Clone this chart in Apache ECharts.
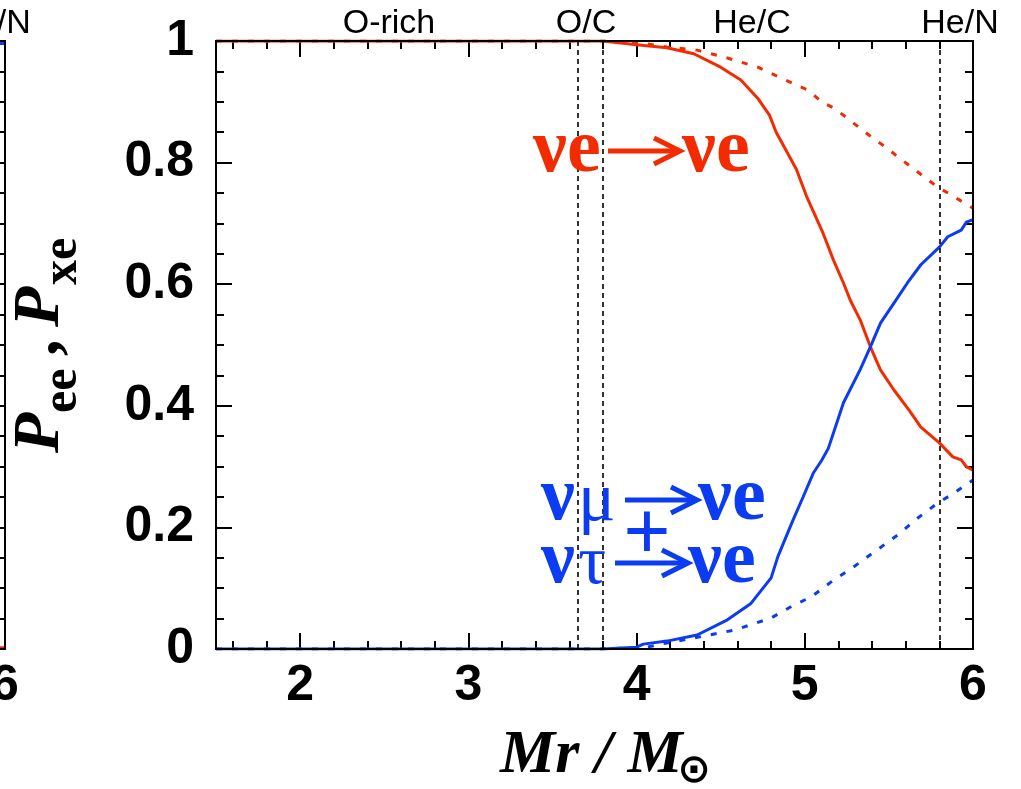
<!DOCTYPE html>
<html>
<head>
<meta charset="utf-8">
<script src="https://cdn.jsdelivr.net/npm/echarts@6/dist/echarts.min.js"></script>
<style>
  html, body { margin: 0; padding: 0; background: #fff; }
  #chart { width: 1021px; height: 789px; }
</style>
</head>
<body>
<div id="chart"></div>
<script>
// Enclosed mass coordinate Mr / Msun
const xMin = 1.5;
const xMax = 6;
const majorX = [2, 3, 4, 5, 6];
const minorX = [1.6, 1.8, 2.2, 2.4, 2.6, 2.8, 3.2, 3.4, 3.6, 3.8, 4.2, 4.4, 4.6, 4.8, 5.2, 5.4, 5.6, 5.8];

// Composition layer boundaries and their names
const boundaryX = [3.65, 3.8, 5.8];
const zoneNames = ['O-rich', 'O/C', 'He/C', 'He/N'];

// P_ee (solid): nu_e -> nu_e
const peeX = [1.5, 3.8, 4.0, 4.18, 4.34, 4.5, 4.62, 4.72, 4.79, 4.83, 4.95, 5.01, 5.11, 5.17, 5.23, 5.27, 5.33, 5.39, 5.45, 5.53, 5.62, 5.69, 5.8, 5.88, 5.93, 5.96, 6.0];
const peeY = [1.0, 1.0, 0.994, 0.989, 0.979, 0.957, 0.936, 0.906, 0.878, 0.85, 0.789, 0.745, 0.683, 0.64, 0.602, 0.574, 0.541, 0.497, 0.459, 0.426, 0.393, 0.365, 0.339, 0.316, 0.311, 0.3, 0.294];

// P_xe (solid): nu_mu + nu_tau -> nu_e
const pxeX = [1.5, 3.8, 4.0, 4.04, 4.18, 4.36, 4.54, 4.68, 4.8, 4.84, 4.93, 4.99, 5.05, 5.1, 5.14, 5.23, 5.33, 5.39, 5.45, 5.53, 5.61, 5.69, 5.8, 5.85, 5.93, 5.96, 6.0];
const pxeY = [0.0, 0.0, 0.003, 0.008, 0.013, 0.023, 0.048, 0.075, 0.117, 0.152, 0.212, 0.25, 0.289, 0.31, 0.33, 0.405, 0.46, 0.497, 0.536, 0.569, 0.602, 0.632, 0.661, 0.678, 0.689, 0.702, 0.706];

// P_ee (dotted)
const peeDotX = [1.5, 3.8, 4.02, 4.18, 4.36, 4.54, 4.72, 4.86, 5.02, 5.1, 5.17, 5.23, 5.29, 5.42, 5.49, 5.55, 5.67, 5.75, 5.8, 5.87, 5.94, 6.0];
const peeDotY = [1.0, 1.0, 0.997, 0.99, 0.985, 0.972, 0.957, 0.939, 0.919, 0.9, 0.89, 0.878, 0.865, 0.837, 0.824, 0.81, 0.785, 0.768, 0.758, 0.747, 0.735, 0.725];

// P_xe (dotted)
const pxeDotX = [1.5, 3.8, 4.06, 4.18, 4.34, 4.58, 4.8, 4.92, 5.04, 5.155, 5.29, 5.43, 5.55, 5.67, 5.79, 5.89, 6.0];
const pxeDotY = [0.0, 0.0, 0.003, 0.01, 0.018, 0.031, 0.051, 0.07, 0.086, 0.11, 0.135, 0.163, 0.187, 0.215, 0.24, 0.257, 0.278];

// Neighbouring panel (only its outer edge shows)
const sideX = [5.9, 6.0];
const sidePee = [0.002, 0.002];
const sidePxe = [0.996, 0.996];
const sidePeeDot = [0.727, 0.726];
const sidePxeDot = [0.278, 0.278];

const RED = '#f22c00';
const BLUE = '#0b3cf2';
const SANS = '"Liberation Sans", Arial, Helvetica, sans-serif';
const SERIF = '"Liberation Serif", "Times New Roman", serif';

const pairs = (xs, ys) => xs.map((x, i) => [x, ys[i]]);

const chart = echarts.init(document.getElementById('chart'), null, { renderer: 'canvas' });

function xAxes(gridIndex) {
  const base = { type: 'value', gridIndex, min: xMin, max: xMax, splitLine: { show: false }, axisLine: { show: false } };
  const tick = (vals, len) => ({ show: true, inside: true, length: len, customValues: vals, lineStyle: { color: '#000', width: 2 } });
  return [
    Object.assign({}, base, {
      position: 'bottom',
      axisTick: tick(majorX, 16),
      axisLabel: { show: true, customValues: majorX, margin: 12, fontSize: 50, fontWeight: 'bold', fontFamily: SANS, color: '#000' }
    }),
    Object.assign({}, base, { position: 'bottom', axisTick: tick(minorX, 8), axisLabel: { show: false } }),
    Object.assign({}, base, { position: 'top', axisTick: tick(majorX, 16), axisLabel: { show: false } }),
    Object.assign({}, base, { position: 'top', axisTick: tick(minorX, 8), axisLabel: { show: false } })
  ];
}

function yAxes(gridIndex) {
  const base = {
    type: 'value', gridIndex, min: 0, max: 1, interval: 0.2,
    splitLine: { show: false }, axisLine: { show: false },
    axisTick: { show: true, inside: true, length: 16, lineStyle: { color: '#000', width: 2 } },
    minorTick: { show: true, splitNumber: 4, length: 8, lineStyle: { color: '#000', width: 2 } }
  };
  return [
    Object.assign({}, base, {
      position: 'left',
      axisLabel: { show: true, margin: 22, fontSize: 50, fontWeight: 'bold', fontFamily: SANS, color: '#000' }
    }),
    Object.assign({}, base, { position: 'right', axisLabel: { show: false } })
  ];
}

function lineSeries(name, data, color, dotted, xi, yi) {
  return {
    name, type: 'line', data, xAxisIndex: xi, yAxisIndex: yi,
    showSymbol: false, symbol: 'none', silent: true, animation: false,
    lineStyle: { color, width: 3, type: dotted ? [6, 10] : 'solid' },
    clip: true, z: 3
  };
}

// Text placed by its baseline (canvas 'middle' sits ~0.34 em above the baseline)
function txt(text, x, baseline, size, opts) {
  opts = opts || {};
  return {
    type: 'text', x, y: baseline - 0.34 * size, silent: true, z: 10,
    style: {
      text, fill: opts.fill || '#000',
      font: (opts.style || '') + ' ' + (opts.weight || 'normal') + ' ' + size + 'px ' + (opts.family || SANS),
      align: opts.align || 'left', verticalAlign: 'middle'
    }
  };
}

function arrow(x0, x1, y, color) {
  return [
    { type: 'line', silent: true, z: 10, shape: { x1: x0, y1: y, x2: x1 - 2, y2: y }, style: { stroke: color, lineWidth: 5 } },
    { type: 'polyline', silent: true, z: 10, shape: { points: [[x1 - 26, y - 13], [x1, y], [x1 - 26, y + 13]] }, style: { stroke: color, lineWidth: 5, fill: null, lineJoin: 'miter' } }
  ];
}

const graphics = [];
// zone names along the top of each panel
const zoneX = [389, 586, 752, 960];
zoneNames.forEach((n, i) => graphics.push(txt(n, zoneX[i], 35, 34, { align: 'center' })));
graphics.push(txt('He/N', -8, 35, 34, { align: 'center' }));

// nu_e -> nu_e
const serifB = (fill) => ({ fill, weight: 'bold', family: SERIF });
graphics.push(txt('νe', 533, 177, 76, serifB(RED)));
graphics.push(...arrow(608, 680, 151, RED));
graphics.push(txt('νe', 682, 177, 76, serifB(RED)));

// nu_mu + nu_tau -> nu_e
graphics.push(txt('ν', 541, 525, 76, serifB(BLUE)));
graphics.push(txt('μ', 578, 525, 70, { fill: BLUE, family: SERIF }));
graphics.push(...arrow(625, 697, 500, BLUE));
graphics.push(txt('νe', 698, 525, 76, serifB(BLUE)));
graphics.push(txt('+', 647, 566, 84, Object.assign(serifB(BLUE), { align: 'center' })));
graphics.push(txt('ν', 541, 588, 76, serifB(BLUE)));
graphics.push(txt('τ', 578, 588, 70, { fill: BLUE, family: SERIF }));
graphics.push(...arrow(615, 688, 563, BLUE));
graphics.push(txt('νe', 688, 588, 76, serifB(BLUE)));

// x-axis title
graphics.push(txt('Mr / M', 500, 777, 62, { style: 'italic', weight: 'bold', family: SERIF }));
graphics.push(txt('⊙', 694, 785, 40, { align: 'center', weight: 'bold', family: '"DejaVu Sans", sans-serif' }));

// y-axis title, read bottom to top
const yTitleChildren = [
  txt('P', 0, 0, 66, { style: 'italic', weight: 'bold', family: SERIF }),
  txt('ee', 40, 17, 50, { weight: 'bold', family: SERIF }),
  txt(',', 97, 0, 66, { weight: 'bold', family: SERIF }),
  txt('P', 126, 0, 66, { style: 'italic', weight: 'bold', family: SERIF }),
  txt('xe', 168, 17, 50, { weight: 'bold', family: SERIF })
];
graphics.push({ type: 'group', x: 63, y: 453, rotation: Math.PI / 2, children: yTitleChildren });

const gridBase = { top: 41, bottom: 140, show: true, borderColor: '#000', borderWidth: 2, backgroundColor: 'transparent', z: 4, outerBoundsMode: 'none', containLabel: false };

const option = {
  backgroundColor: '#fff',
  animation: false,
  grid: [
    Object.assign({ left: -751, right: 1016 }, gridBase),
    Object.assign({ left: 216, right: 48 }, gridBase)
  ],
  xAxis: [...xAxes(0), ...xAxes(1)],
  yAxis: [...yAxes(0), ...yAxes(1)],
  series: [
    lineSeries('side-pee', pairs(sideX, sidePee), RED, false, 0, 0),
    lineSeries('side-pxe', pairs(sideX, sidePxe), BLUE, false, 0, 0),
    lineSeries('side-pee-dot', pairs(sideX, sidePeeDot), RED, true, 0, 0),
    lineSeries('side-pxe-dot', pairs(sideX, sidePxeDot), BLUE, true, 0, 0),
    Object.assign(lineSeries('pee-dot', pairs(peeDotX, peeDotY), RED, true, 4, 2), {
      markLine: {
        silent: true, symbol: 'none', label: { show: false },
        lineStyle: { color: '#000', width: 1.6, type: [5, 4] },
        data: boundaryX.map(x => ({ xAxis: x }))
      }
    }),
    lineSeries('pxe-dot', pairs(pxeDotX, pxeDotY), BLUE, true, 4, 2),
    lineSeries('pee', pairs(peeX, peeY), RED, false, 4, 2),
    lineSeries('pxe', pairs(pxeX, pxeY), BLUE, false, 4, 2)
  ],
  graphic: graphics
};
chart.setOption(option);
</script>
</body>
</html>
